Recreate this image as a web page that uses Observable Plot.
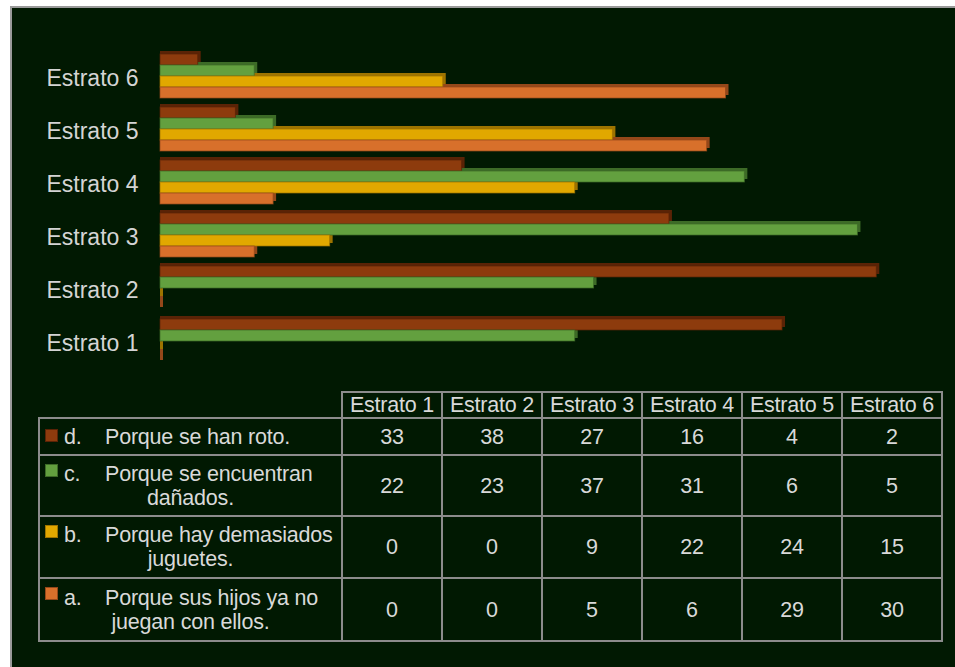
<!DOCTYPE html>
<html>
<head>
<meta charset="utf-8">
<script src="https://cdn.jsdelivr.net/npm/d3@7"></script>
<script src="https://cdn.jsdelivr.net/npm/@observablehq/plot@0.6"></script>
<style>
  html, body { margin: 0; padding: 0; background: #ffffff; }
  #wrap { position: relative; width: 955px; height: 667px; overflow: hidden; font-family: "Liberation Sans", Arial, sans-serif; }
  #panel { position: absolute; left: 10px; top: 6px; width: 945px; height: 661px; background: #011902;
           border-left: 2px solid #9a9a9a; border-top: 2px solid #9a9a9a; box-sizing: border-box; }
  #chart { position: absolute; left: 0; top: 0; }
  #tbl { position: absolute; left: 38px; top: 391px; border-collapse: collapse; color: #d9d9d9; font-size: 21.5px; letter-spacing: -0.2px; }
  #tbl td, #tbl th { border: 2px solid #8c8c8c; padding: 0; text-align: center; font-weight: normal; line-height: 24px; }
  #tbl th.blank { border-top: none; border-left: none; }
  #tbl td.lab { position: relative; text-align: left; }
  .key { position: absolute; left: 5px; width: 13px; height: 13px; box-sizing: border-box; }
  .l1 { padding-left: 24px; white-space: nowrap; }
  .l2 { text-align: center; padding-right: 0px; }
  .let { display: inline-block; width: 41px; text-align: left; }
</style>
</head>
<body>
<div id="wrap">
  <div id="panel"></div>
  <div id="chart"></div>
  <table id="tbl"></table>
</div>
<script>
// ---- data ----
const estratos = ["Estrato 1", "Estrato 2", "Estrato 3", "Estrato 4", "Estrato 5", "Estrato 6"];
const seriesKeys = ["d", "c", "b", "a"];
const seriesLines = [
  ["Porque se han roto."],
  ["Porque se encuentran", "dañados."],
  ["Porque hay demasiados", "juguetes."],
  ["Porque sus hijos ya no", "juegan con ellos."]
];
const dValues = [33, 38, 27, 16, 4, 2];
const cValues = [22, 23, 37, 31, 6, 5];
const bValues = [0, 0, 9, 22, 24, 15];
const aValues = [0, 0, 5, 6, 29, 30];

const frontColors = ["#8d3b0d", "#63a03f", "#e1a800", "#d8702b"];
const sideColors  = ["#5a2306", "#3d6b27", "#9e7400", "#95481a"];

const valuesBySeries = [dValues, cValues, bValues, aValues];
const rows = [];
seriesKeys.forEach((k, si) => {
  estratos.forEach((e, ei) => {
    rows.push({estrato: e, key: k, value: valuesBySeries[si][ei],
               front: frontColors[si], side: sideColors[si]});
  });
});

const chart = Plot.plot({
  width: 955,
  height: 385,
  marginLeft: 160,
  marginRight: 41,
  marginTop: 48,
  marginBottom: 18,
  style: {background: "transparent", fontFamily: "Liberation Sans, Arial, sans-serif"},
  x: {domain: [0, 40], axis: null},
  y: {domain: seriesKeys, axis: null, paddingInner: 0, paddingOuter: 0.4},
  fy: {domain: estratos.slice().reverse(), axis: null, padding: 0},
  color: {type: "identity"},
  marks: [
    Plot.barX(rows, {fy: "estrato", y: "key", x: "value", fill: "side", dx: 3, dy: -3, insetLeft: -3}),
    Plot.barX(rows, {fy: "estrato", y: "key", x: "value", fill: "front", stroke: "side", strokeWidth: 1, strokeOpacity: 0.7}),
    Plot.text(estratos, {fy: d => d, text: d => d, frameAnchor: "left", textAnchor: "end",
                         dx: -22, dy: 3, fill: "#d4d4d4", fontSize: 23})
  ]
});
document.getElementById("chart").appendChild(chart);

// ---- data table ----
const tbl = document.getElementById("tbl");
let html = '<tr style="height:25px"><th class="blank" style="width:302px"></th>' +
  estratos.map(e => '<th style="width:98px">' + e + '</th>').join("") + '</tr>';
const rowHeights = [37, 61, 62, 63];
seriesKeys.forEach((k, si) => {
  const lines = seriesLines[si];
  const labelHtml = '<div class="l1"><span class="let">' + k + '.</span>' + lines[0] + '</div>' +
    lines.slice(1).map(l => '<div class="l2">' + l + '</div>').join("");
  const keyTop = lines.length > 1 ? 8 : 10;
  html += '<tr style="height:' + rowHeights[si] + 'px">' +
    '<td class="lab"><span class="key" style="top:' + keyTop + 'px;background:' + frontColors[si] +
    ';border:1px solid ' + sideColors[si] + '"></span>' + labelHtml + '</td>' +
    valuesBySeries[si].map(v => '<td>' + v + '</td>').join("") + '</tr>';
});
tbl.innerHTML = html;
</script>
</body>
</html>
